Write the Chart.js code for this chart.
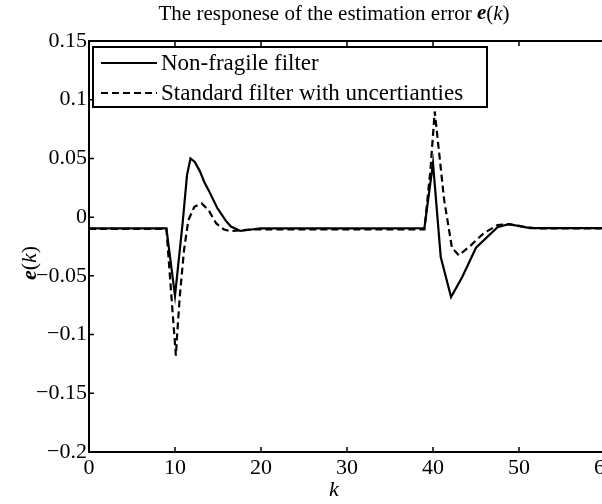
<!DOCTYPE html>
<html>
<head>
<meta charset="utf-8">
<script src="https://cdn.jsdelivr.net/npm/chart.js@4.4.0/dist/chart.umd.min.js"></script>
<style>
  html, body { margin: 0; padding: 0; background: #fff; overflow: hidden; width: 602px; height: 504px; }
  #wrap { position: absolute; left: 0; top: 0; width: 620px; height: 504px; }
</style>
</head>
<body>
<div id="wrap"><canvas id="c" width="620" height="504"></canvas></div>
<script>
// ---- data ----
const seriesNames = ['Non-fragile filter', 'Standard filter with uncertianties'];
const kSolid = [0, 9, 10, 10.9, 11.4, 11.8, 12.3, 12.9, 13.4, 13.9, 14.9, 15.9, 16.5, 17.6, 18.9, 19.9, 25, 30, 35, 39, 40, 40.9, 42.1, 43.4, 45.0, 47.5, 48.8, 51.3, 60];
const eSolid = [-0.0095, -0.0095, -0.067, -0.004, 0.036, 0.05, 0.047, 0.039, 0.030, 0.023, 0.008, -0.003, -0.008, -0.0117, -0.0105, -0.0095, -0.0095, -0.0095, -0.0095, -0.0094, 0.046, -0.034, -0.068, -0.051, -0.026, -0.0085, -0.006, -0.0094, -0.0094];
const kDashed = [0, 9, 10.1, 10.25, 10.55, 11.05, 11.55, 12.25, 13.1, 13.9, 14.8, 15.7, 16.4, 18.8, 30, 39, 39.7, 40.2, 41.3, 42.2, 43.0, 44.4, 45.9, 47.5, 48.8, 50.5, 52, 60];
const eDashed = [-0.010, -0.010, -0.118, -0.1, -0.068, -0.028, -0.0026, 0.0088, 0.0117, 0.006, -0.0054, -0.0105, -0.012, -0.0105, -0.0105, -0.0105, 0.04, 0.09, 0.0145, -0.026, -0.0325, -0.024, -0.0137, -0.0068, -0.006, -0.008, -0.0095, -0.0095];
const xTicks = [0, 10, 20, 30, 40, 50, 60];
const yTicks = [-0.2, -0.15, -0.1, -0.05, 0, 0.05, 0.1, 0.15];
const yTickLabels = ['\u22120.2', '\u22120.15', '\u22120.1', '\u22120.05', '0', '0.05', '0.1', '0.15'];
const xTickLabels = ['0', '10', '20', '30', '40', '50', '60'];

const FONT = '"Liberation Serif", "Times New Roman", serif';

function pts(xs, ys) { return xs.map((x, i) => ({ x: x, y: ys[i] })); }

const framePlugin = {
  id: 'frame',
  afterDatasetsDraw(chart) {
    const ctx = chart.ctx, a = chart.chartArea;
    const xs = chart.scales.x, ys = chart.scales.y;
    ctx.save();
    ctx.strokeStyle = '#000';
    ctx.lineWidth = 2;
    ctx.beginPath();
    ctx.moveTo(a.right + 5, a.top); ctx.lineTo(a.left, a.top);
    ctx.lineTo(a.left, a.bottom); ctx.lineTo(a.right + 5, a.bottom);
    ctx.stroke();
    ctx.lineWidth = 1.5;
    ctx.beginPath();
    xTicks.forEach(v => {
      const px = xs.getPixelForValue(v);
      ctx.moveTo(px, a.bottom); ctx.lineTo(px, a.bottom - 5);
      ctx.moveTo(px, a.top); ctx.lineTo(px, a.top + 5);
    });
    yTicks.forEach(v => {
      const py = ys.getPixelForValue(v);
      ctx.moveTo(a.left, py); ctx.lineTo(a.left + 5, py);
    });
    ctx.stroke();
    ctx.restore();
  },
  afterDraw(chart) {
    const ctx = chart.ctx;
    ctx.save();
    // legend box
    const L = 93, T = 47, R = 487, B = 107;
    ctx.fillStyle = '#fff';
    ctx.fillRect(L, T, R - L, B - T);
    ctx.strokeStyle = '#000';
    ctx.lineWidth = 2;
    ctx.strokeRect(L, T, R - L, B - T);
    const rows = [63, 93];
    chart.data.datasets.forEach((ds, i) => {
      ctx.beginPath();
      ctx.lineWidth = ds.borderWidth;
      ctx.setLineDash(ds.borderDash || []);
      ctx.moveTo(101, rows[i]); ctx.lineTo(157, rows[i]);
      ctx.stroke();
      ctx.setLineDash([]);
      ctx.fillStyle = '#000';
      ctx.font = '23px ' + FONT;
      ctx.textBaseline = 'middle';
      ctx.textAlign = 'left';
      ctx.fillText(ds.label, 161, rows[i] + 1);
    });
    // title with mixed styles
    const parts = [
      ['The responese of the estimation error ', '21px ' + FONT],
      ['e', 'italic bold 21px ' + FONT],
      ['(', '21px ' + FONT],
      ['k', 'italic 21px ' + FONT],
      [')', '21px ' + FONT]
    ];
    let w = 0;
    parts.forEach(p => { ctx.font = p[1]; w += ctx.measureText(p[0]).width; });
    const cx = 334;
    let x = cx - w / 2;
    ctx.textBaseline = 'middle';
    ctx.textAlign = 'left';
    parts.forEach(p => { ctx.font = p[1]; ctx.fillText(p[0], x, 14); x += ctx.measureText(p[0]).width; });
    // x label
    ctx.font = 'italic 22px ' + FONT;
    ctx.textAlign = 'center';
    ctx.fillText('k', 334, 490);
    // y label e(k) rotated
    ctx.translate(30, 263);
    ctx.rotate(-Math.PI / 2);
    const yparts = [['e', 'italic bold 22px ' + FONT], ['(', '22px ' + FONT], ['k', 'italic 22px ' + FONT], [')', '22px ' + FONT]];
    let yw = 0;
    yparts.forEach(p => { ctx.font = p[1]; yw += ctx.measureText(p[0]).width; });
    let yx = -yw / 2;
    ctx.textAlign = 'left';
    yparts.forEach(p => { ctx.font = p[1]; ctx.fillText(p[0], yx, 0); yx += ctx.measureText(p[0]).width; });
    ctx.restore();
  }
};

new Chart(document.getElementById('c'), {
  type: 'line',
  data: {
    datasets: [
      { label: seriesNames[0], data: pts(kSolid, eSolid), borderColor: '#000', borderWidth: 2.2, pointRadius: 0, tension: 0, fill: false },
      { label: seriesNames[1], data: pts(kDashed, eDashed), borderColor: '#000', borderWidth: 2.2, borderDash: [7, 4], pointRadius: 0, tension: 0, fill: false }
    ]
  },
  options: {
    responsive: false,
    animation: false,
    devicePixelRatio: 1,
    layout: { padding: { left: 0, right: 15, top: 41, bottom: 0 } },
    plugins: { legend: { display: false }, title: { display: false }, tooltip: { enabled: false } },
    scales: {
      x: {
        type: 'linear', min: 0, max: 60,
        afterFit(s) { s.height = 52; },
        afterBuildTicks(s) { s.ticks = xTicks.map(v => ({ value: v })); },
        grid: { display: false, drawTicks: false },
        border: { display: false },
        ticks: { color: '#000', font: { family: FONT, size: 22 }, padding: 3, maxRotation: 0, autoSkip: false,
          callback: (v) => xTickLabels[xTicks.indexOf(v)] }
      },
      y: {
        type: 'linear', min: -0.2, max: 0.15,
        afterFit(s) { s.width = 89; },
        afterBuildTicks(s) { s.ticks = yTicks.map(v => ({ value: v })); },
        grid: { display: false, drawTicks: false },
        border: { display: false },
        ticks: { color: '#000', font: { family: FONT, size: 22 }, padding: 2, autoSkip: false,
          callback: (v) => { const i = yTicks.findIndex(t => Math.abs(t - v) < 1e-9); return i >= 0 ? yTickLabels[i] : ''; } }
      }
    }
  },
  plugins: [framePlugin]
});
</script>
</body>
</html>
